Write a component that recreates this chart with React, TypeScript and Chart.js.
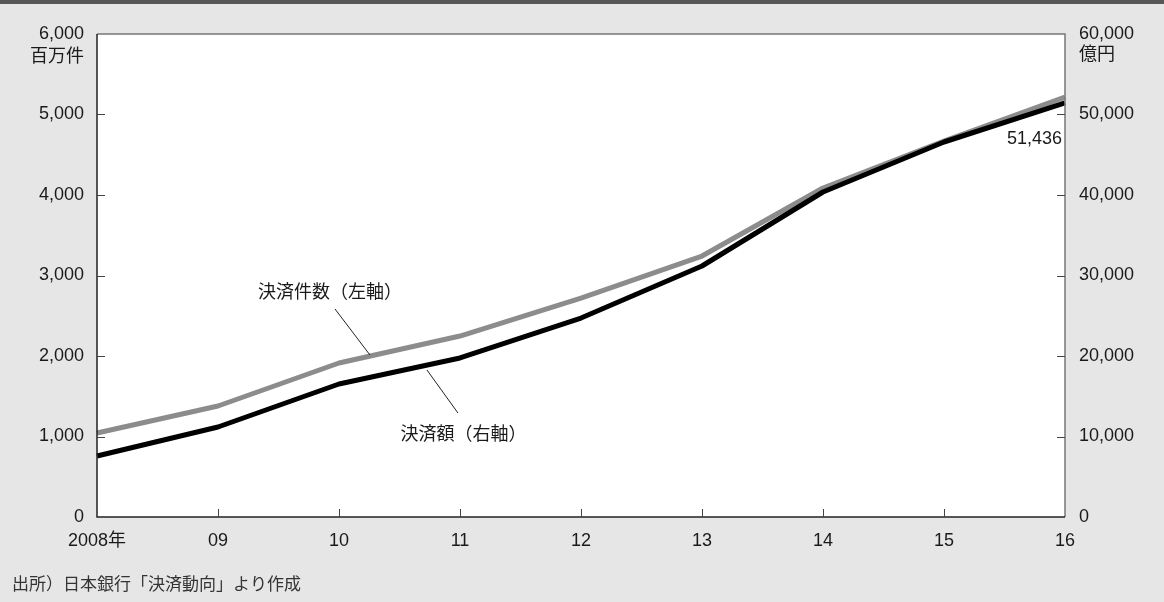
import React, { useEffect, useRef } from "react";
import { Chart, registerables } from "chart.js";

Chart.register(...registerables);

const years = ["2008年", "09", "10", "11", "12", "13", "14", "15", "16"];
const countValues = [1043, 1379, 1913, 2248, 2720, 3242, 4087, 4670, 5217];
const amountValues = [7578, 11180, 16522, 19752, 24720, 31180, 40373, 46584, 51436];
const leftUnit = "百万件";
const rightUnit = "億円";
const countLabel = "決済件数（左軸）";
const amountLabel = "決済額（右軸）";
const sourceText = "出所）日本銀行「決済動向」より作成";

const FONT = "'Liberation Sans', 'Noto Sans CJK JP', sans-serif";

const decorPlugin = {
  id: "decor",
  beforeDraw(chart: any) {
    const { ctx, chartArea: a, width, height } = chart;
    ctx.save();
    ctx.fillStyle = "#e6e6e6";
    ctx.fillRect(0, 0, width, height);
    ctx.fillStyle = "#575757";
    ctx.fillRect(0, 0, width, 4);
    ctx.fillStyle = "#ffffff";
    ctx.fillRect(a.left, a.top, a.right - a.left, a.bottom - a.top);
    ctx.restore();
  },
  afterDatasetsDraw(chart: any) {
    const { ctx, chartArea: a, scales } = chart;
    const x = scales.x, yl = scales.yLeft, yr = scales.yRight;
    ctx.save();
    // frame
    ctx.lineWidth = 1.5;
    ctx.strokeStyle = "#777";
    ctx.beginPath();
    ctx.moveTo(a.left, a.top);
    ctx.lineTo(a.right, a.top);
    ctx.lineTo(a.right, a.bottom);
    ctx.stroke();
    ctx.strokeStyle = "#222";
    ctx.beginPath();
    ctx.moveTo(a.left, a.top);
    ctx.lineTo(a.left, a.bottom);
    ctx.lineTo(a.right, a.bottom);
    ctx.stroke();
    // inward ticks
    ctx.lineWidth = 1;
    ctx.strokeStyle = "#444";
    ctx.beginPath();
    for (let v = 1000; v < 6000; v += 1000) {
      const py = Math.round(yl.getPixelForValue(v)) + 0.5;
      ctx.moveTo(a.left, py);
      ctx.lineTo(a.left + 8, py);
    }
    for (let v = 10000; v < 60000; v += 10000) {
      const py = Math.round(yr.getPixelForValue(v)) + 0.5;
      ctx.moveTo(a.right - 8, py);
      ctx.lineTo(a.right, py);
    }
    for (let i = 1; i < years.length - 1; i++) {
      const px = Math.round(x.getPixelForValue(i)) + 0.5;
      ctx.moveTo(px, a.bottom - 8);
      ctx.lineTo(px, a.bottom);
    }
    ctx.stroke();

    // units
    ctx.fillStyle = "#1a1a1a";
    ctx.font = `18px ${FONT}`;
    ctx.textBaseline = "middle";
    ctx.textAlign = "right";
    ctx.fillText(leftUnit, a.left - 13, a.top + 23);
    ctx.textAlign = "left";
    ctx.fillText(rightUnit, a.right + 14, a.top + 21);

    // annotations
    ctx.strokeStyle = "#222";
    ctx.lineWidth = 1;
    ctx.beginPath();
    ctx.moveTo(x.getPixelForValue(1.967), yl.getPixelForValue(2584));
    ctx.lineTo(x.getPixelForValue(2.256), yl.getPixelForValue(2012));
    ctx.moveTo(x.getPixelForValue(2.727), yr.getPixelForValue(18261));
    ctx.lineTo(x.getPixelForValue(2.983), yr.getPixelForValue(12919));
    ctx.stroke();
    ctx.textAlign = "center";
    ctx.fillText(countLabel, x.getPixelForValue(1.926), yl.getPixelForValue(2783));
    ctx.fillText(amountLabel, x.getPixelForValue(3.029), yr.getPixelForValue(10186));

    const last = amountValues.length - 1;
    ctx.textAlign = "right";
    ctx.fillText(
      amountValues[last].toLocaleString("en-US"),
      x.getPixelForValue(last) - 3,
      yr.getPixelForValue(amountValues[last]) + 36
    );

    // source
    ctx.font = `17px ${FONT}`;
    ctx.fillStyle = "#333";
    ctx.textAlign = "left";
    ctx.fillText(sourceText, 12, 585);
    ctx.restore();
  },
};

export default function App() {
  const ref = useRef<HTMLCanvasElement>(null);
  useEffect(() => {
    if (!ref.current) return;
    const tickFont = { family: FONT, size: 18 };
    const chart = new Chart(ref.current, {
      type: "line",
      data: {
        labels: years,
        datasets: [
          {
            label: countLabel,
            data: countValues,
            yAxisID: "yLeft",
            borderColor: "#8c8c8c",
            borderWidth: 5,
            pointRadius: 0,
            tension: 0,
            order: 2,
            borderJoinStyle: "round",
          },
          {
            label: amountLabel,
            data: amountValues,
            yAxisID: "yRight",
            borderColor: "#000000",
            borderWidth: 5,
            pointRadius: 0,
            tension: 0,
            order: 1,
            borderJoinStyle: "round",
          },
        ],
      },
      options: {
        responsive: false,
        animation: false,
        devicePixelRatio: 1,
        layout: { padding: { top: 34, left: 0, right: 0, bottom: 0 } },
        plugins: { legend: { display: false }, tooltip: { enabled: false } },
        scales: {
          x: {
            type: "category",
            offset: false,
            grid: { display: false, drawTicks: false },
            border: { display: false },
            ticks: {
              font: tickFont,
              color: "#1a1a1a",
              padding: 13,
              autoSkip: false,
              maxRotation: 0,
            },
            afterFit: (s: any) => {
              s.height = 85;
            },
          },
          yLeft: {
            type: "linear",
            position: "left",
            min: 0,
            max: 6000,
            grid: { display: false, drawTicks: false },
            border: { display: false },
            ticks: {
              stepSize: 1000,
              font: tickFont,
              color: "#1a1a1a",
              padding: 13,
              callback: (v: any) => Number(v).toLocaleString("en-US"),
            },
            afterFit: (s: any) => {
              s.width = 97;
            },
          },
          yRight: {
            type: "linear",
            position: "right",
            min: 0,
            max: 60000,
            grid: { display: false, drawTicks: false },
            border: { display: false },
            ticks: {
              stepSize: 10000,
              font: tickFont,
              color: "#1a1a1a",
              padding: 14,
              callback: (v: any) => Number(v).toLocaleString("en-US"),
            },
            afterFit: (s: any) => {
              s.width = 99;
            },
          },
        },
      },
      plugins: [decorPlugin],
    } as any);
    return () => chart.destroy();
  }, []);
  return (
    <div style={{ position: "absolute", left: 0, top: 0, width: 1164, height: 602 }}>
      <canvas ref={ref} width={1164} height={602} style={{ display: "block" }} />
    </div>
  );
}
